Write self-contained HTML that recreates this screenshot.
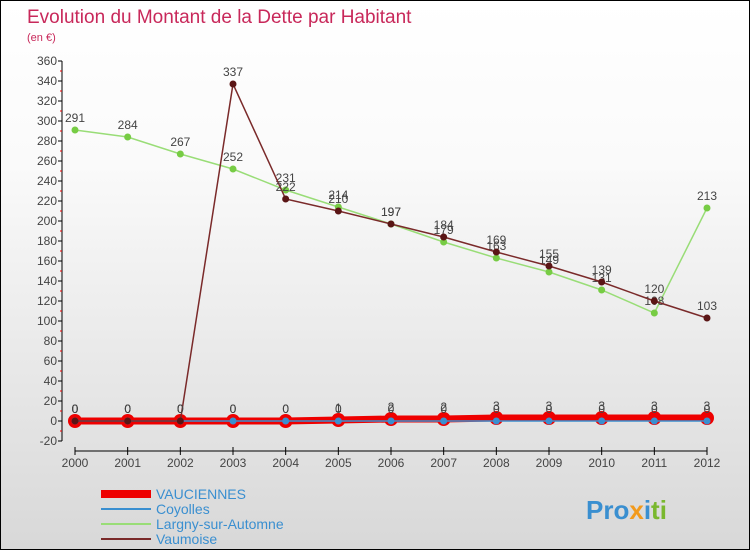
<!DOCTYPE html>
<html><head><meta charset="utf-8"><style>
body{margin:0}
#c{position:relative;width:748px;height:548px;border:1px solid #000;background:linear-gradient(#fff,#fafafa 30%,#d8d8d8);font-family:"Liberation Sans",sans-serif;overflow:hidden}
svg text{font-family:"Liberation Sans",sans-serif}
</style></head><body>
<div id="c">
<svg width="748" height="548" id="s">
<text x="26" y="22" font-size="19" fill="#c8285a">Evolution du Montant de la Dette par Habitant</text>
<text x="26" y="40" font-size="11" fill="#c8285a">(en €)</text>
<g id="g"></g>
<text x="585" y="518" font-size="26" font-weight="bold" fill="#3a8fd0">Pro<tspan fill="#f29a1c">x</tspan><tspan fill="#3a8fd0">i</tspan><tspan fill="#7ab82e">ti</tspan></text>
</svg></div>
<script>
const years=[2000,2001,2002,2003,2004,2005,2006,2007,2008,2009,2010,2011,2012];
const yTicks=[-20,0,20,40,60,80,100,120,140,160,180,200,220,240,260,280,300,320,340,360];
const vaucValues=[0,0,0,0,0,1,2,2,3,3,3,3,3];
const coyValues=[0,0,0,0,0,0,0,0,0,0,0,0,0];
const largnyValues=[291,284,267,252,231,214,197,179,163,149,131,108,213];
const vaumValues=[0,0,0,337,222,210,197,184,169,155,139,120,103];
const NS="http://www.w3.org/2000/svg";
const g=document.getElementById('g');
const X=i=>74+i*(706-74)/(years.length-1);
const Y=v=>420-(v)*1.0;
function el(t,a){const e=document.createElementNS(NS,t);for(const k in a)e.setAttribute(k,a[k]);g.appendChild(e);return e;}
let e;
e=el('line',{x1:61,y1:60,x2:61,y2:440,stroke:'#000'});


yTicks.forEach(v=>{
 el('line',{x1:57,x2:61,y1:Y(v),y2:Y(v),stroke:'#000'});
 if(v<360) el('line',{x1:59,x2:61,y1:Y(v)-10,y2:Y(v)-10,stroke:'#e00'});
 const t=el('text',{x:56,y:Y(v)+4,'font-size':12,'text-anchor':'end',fill:'#444'});t.textContent=v;
 
 
});
e=el('line',{x1:74,y1:450,x2:706,y2:450,stroke:'#000'});


years.forEach((y,i)=>{
 el('line',{x1:X(i),x2:X(i),y1:446,y2:454,stroke:'#000'});
 const t=el('text',{x:X(i),y:466,'font-size':12,'text-anchor':'middle',fill:'#444'});t.textContent=y;
 
 
});
function series(vals,color,w,r,name,fill){
 const p=el('polyline',{points:vals.map((v,i)=>X(i)+','+Y(v)).join(' '),fill:'none',stroke:color,'stroke-width':w});
 
 
 vals.forEach((v,i)=>{
  const c=el('circle',{cx:X(i),cy:Y(v),r:r,fill:fill});
  
  
  const t=el('text',{x:X(i),y:Y(v)-8,'font-size':12,'text-anchor':'middle',fill:'#444'});t.textContent=v;
  
  
 });
}
series(vaucValues,'#e00',7,7,'vauciennes','#e00');
series(coyValues,'#3a8fd0',1.5,3.5,'coyolles','#3a8fd0');
series(largnyValues,'#99dd77',1.5,3.5,'largny','#77cc44');
series(vaumValues,'#7a2a2a',1.5,3.5,'vaumoise','#5a1515');
const legend=[['VAUCIENNES','#e00',8],['Coyolles','#3a8fd0',2],['Largny-sur-Automne','#99dd77',2],['Vaumoise','#7a2a2a',2]];
legend.forEach((l,i)=>{
 const y=493+i*15;
 const ln=el('line',{x1:100,x2:150,y1:y,y2:y,stroke:l[1],'stroke-width':l[2]});
 
 
 const t=el('text',{x:155,y:y+5,'font-size':14,fill:'#3a8fd0'});t.textContent=l[0];
 
 
});
</script>
</body></html>
